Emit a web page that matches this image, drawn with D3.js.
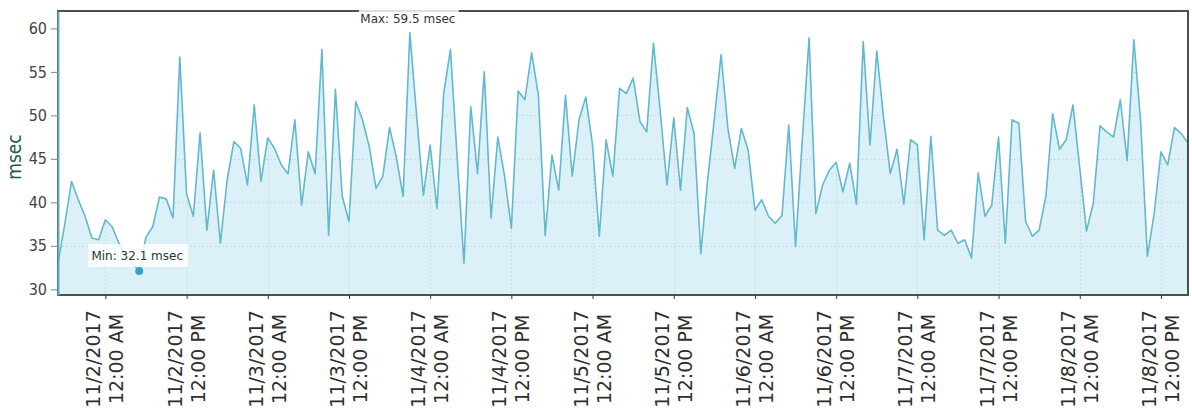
<!DOCTYPE html>
<html>
<head>
<meta charset="utf-8">
<script src="https://cdn.jsdelivr.net/npm/d3@7"></script>
<style>
  html, body { margin: 0; padding: 0; background: #fff; }
  svg { display: block; }
</style>
</head>
<body>
<svg id="chart" width="1192" height="413"></svg>
<script>
// Hourly response time samples, starting 11/1/2017 5:00 PM
const startTime = new Date(2017, 10, 1, 17, 0, 0);
const stepHours = 1;
const responseMsec = [
  33.0, 37.5, 42.4, 40.3, 38.4, 35.9, 35.7, 38.0, 37.2, 35.3,
  34.0, 33.0, 32.1, 36.0, 37.2, 40.6, 40.4, 38.2, 56.7, 41.0,
  38.4, 48.0, 36.8, 43.7, 35.3, 42.6, 47.0, 46.2, 42.0, 51.2,
  42.4, 47.4, 46.2, 44.3, 43.3, 49.5, 39.7, 45.8, 43.3, 57.6,
  36.2, 53.0, 40.7, 37.8, 51.6, 49.5, 46.4, 41.6, 43.0, 48.6,
  45.2, 40.7, 59.5, 50.0, 40.8, 46.6, 39.3, 52.5, 57.6, 45.0,
  33.0, 51.0, 43.3, 55.0, 38.2, 47.5, 43.0, 37.0, 52.8, 51.8,
  57.2, 52.3, 36.2, 45.4, 41.4, 52.3, 43.0, 49.5, 52.1, 46.6,
  36.1, 47.2, 43.0, 53.1, 52.5, 54.3, 49.3, 48.1, 58.3, 50.5,
  42.0, 49.7, 41.4, 50.9, 47.9, 34.1, 42.5, 49.6, 57.0, 48.5,
  43.9, 48.5, 46.0, 39.1, 40.3, 38.4, 37.6, 38.5, 48.9, 34.9,
  47.2, 58.9, 38.7, 42.0, 43.7, 44.6, 41.2, 44.5, 39.8, 58.5,
  46.6, 57.4, 49.8, 43.3, 46.1, 39.8, 47.2, 46.6, 35.7, 47.6,
  36.8, 36.2, 36.8, 35.3, 35.7, 33.6, 43.4, 38.4, 39.7, 47.5,
  35.3, 49.5, 49.1, 37.8, 36.1, 36.8, 40.7, 50.2, 46.1, 47.2,
  51.2, 44.0, 36.7, 39.9, 48.8, 48.1, 47.5, 51.8, 44.8, 58.7,
  49.3, 33.8, 38.7, 45.8, 44.3, 48.6, 47.9, 46.8
];

// Axis ticks
const yTickValues = [30, 35, 40, 45, 50, 55, 60];
const xTickDates = [
  new Date(2017, 10, 2, 0), new Date(2017, 10, 2, 12),
  new Date(2017, 10, 3, 0), new Date(2017, 10, 3, 12),
  new Date(2017, 10, 4, 0), new Date(2017, 10, 4, 12),
  new Date(2017, 10, 5, 0), new Date(2017, 10, 5, 12),
  new Date(2017, 10, 6, 0), new Date(2017, 10, 6, 12),
  new Date(2017, 10, 7, 0), new Date(2017, 10, 7, 12),
  new Date(2017, 10, 8, 0), new Date(2017, 10, 8, 12)
];
const yAxisTitle = "msec";
const unit = "msec";

const data = responseMsec.map((v, i) => ({
  t: new Date(startTime.getTime() + i * stepHours * 3600 * 1000),
  v
}));

const plot = { left: 58, top: 11, right: 1188, bottom: 295 };

const svg = d3.select("#chart");

const x = d3.scaleTime()
  .domain([data[0].t, data[data.length - 1].t])
  .range([plot.left, plot.right]);

const y = d3.scaleLinear()
  .domain([29.35, 62])
  .range([plot.bottom, plot.top]);

// Area fill and line
const area = d3.area()
  .x(d => x(d.t))
  .y0(plot.bottom)
  .y1(d => y(d.v));

const line = d3.line()
  .x(d => x(d.t))
  .y(d => y(d.v));

svg.append("defs").append("clipPath")
  .attr("id", "under-area")
  .append("path")
  .datum(data)
  .attr("d", area);

svg.append("path")
  .datum(data)
  .attr("d", area)
  .attr("fill", "#dcf0f7");

// Faint grid, only visible inside the filled region
const grid = svg.append("g")
  .attr("clip-path", "url(#under-area)")
  .attr("stroke", "#8fb0bd").attr("stroke-opacity", 0.3)
  .attr("stroke-width", 1).attr("stroke-dasharray", "2,2");
grid.selectAll("line.h")
  .data(yTickValues.filter(v => v > 30 && v < 60))
  .join("line")
  .attr("x1", plot.left).attr("x2", plot.right)
  .attr("y1", d => Math.round(y(d)) + 0.5).attr("y2", d => Math.round(y(d)) + 0.5);
grid.selectAll("line.v")
  .data(xTickDates)
  .join("line")
  .attr("y1", plot.top).attr("y2", plot.bottom)
  .attr("x1", d => Math.round(x(d)) + 0.5).attr("x2", d => Math.round(x(d)) + 0.5);

svg.append("path")
  .datum(data)
  .attr("d", line)
  .attr("fill", "none")
  .attr("stroke", "#62b9cf")
  .attr("stroke-width", 1.6)
  .attr("stroke-linejoin", "round");

// Plot frame
svg.append("rect")
  .attr("x", plot.left).attr("y", plot.top)
  .attr("width", plot.right - plot.left).attr("height", plot.bottom - plot.top)
  .attr("fill", "none")
  .attr("stroke", "#4a4f52")
  .attr("stroke-width", 2);

// Y axis
const yAxis = svg.append("g")
  .attr("transform", `translate(${plot.left},0)`)
  .call(d3.axisLeft(y).tickValues(yTickValues).tickSize(7).tickSizeOuter(0)
    .tickPadding(4).tickFormat(d3.format("d")));
yAxis.select(".domain").attr("stroke", "#5fb0c6").attr("stroke-width", 2);
yAxis.selectAll(".tick line").attr("stroke", "#7a8a90");
yAxis.selectAll(".tick text")
  .attr("fill", "#444")
  .style("font-family", "'DejaVu Sans Condensed', 'DejaVu Sans', sans-serif")
  .style("font-size", "16px");

svg.append("text")
  .attr("transform", `translate(21,157) rotate(-90)`)
  .attr("text-anchor", "middle")
  .attr("fill", "#245a4c")
  .style("font-family", "'DejaVu Sans Condensed', 'DejaVu Sans', sans-serif")
  .style("font-size", "19px")
  .text(yAxisTitle);

// X axis
const xAxis = svg.append("g")
  .attr("transform", `translate(0,${plot.bottom})`)
  .call(d3.axisBottom(x).tickValues(xTickDates).tickSize(4).tickSizeOuter(0).tickFormat(""));
xAxis.select(".domain").remove();
xAxis.selectAll(".tick line").attr("stroke", "#333");

const fmtDate = d3.timeFormat("%-m/%-d/%Y");
const fmtTime = d3.timeFormat("%-I:%M %p");
const xLabels = svg.append("g")
  .selectAll("g")
  .data(xTickDates)
  .join("g")
  .attr("transform", d => `translate(${x(d)},${plot.bottom}) rotate(-90)`)
  .style("font-family", "'DejaVu Sans', Verdana, sans-serif")
  .style("font-size", "19px")
  .attr("fill", "#2e2e2e")
  .attr("text-anchor", "middle");
xLabels.append("text").attr("x", -64).attr("y", -5).text(d => fmtDate(d));
xLabels.append("text").attr("x", -64).attr("y", 18).text(d => fmtTime(d));

// Min / max callouts
let minI = 0, maxI = 0;
responseMsec.forEach((v, i) => {
  if (v < responseMsec[minI]) minI = i;
  if (v > responseMsec[maxI]) maxI = i;
});

function callout(i, label, boxTop, showDot) {
  const cx = x(data[i].t), cy = y(data[i].v);
  const g = svg.append("g");
  if (showDot) {
    g.append("circle").attr("cx", cx).attr("cy", cy).attr("r", 4).attr("fill", "#36a4c1");
  }
  const w = 100, h = 23;
  g.append("rect")
    .attr("x", cx - w / 2 - 1).attr("y", boxTop)
    .attr("width", w).attr("height", h)
    .attr("fill", "#ffffff").attr("fill-opacity", 0.82);
  g.append("text")
    .attr("x", cx - 2).attr("y", boxTop + 16)
    .attr("text-anchor", "middle")
    .attr("fill", "#333")
    .style("font-family", "'DejaVu Sans', Verdana, sans-serif")
    .style("font-size", "12px")
    .text(label);
}
callout(maxI, `Max: ${responseMsec[maxI].toFixed(1)} ${unit}`, 7, false);
callout(minI, `Min: ${responseMsec[minI].toFixed(1)} ${unit}`, 244, true);
</script>
</body>
</html>
